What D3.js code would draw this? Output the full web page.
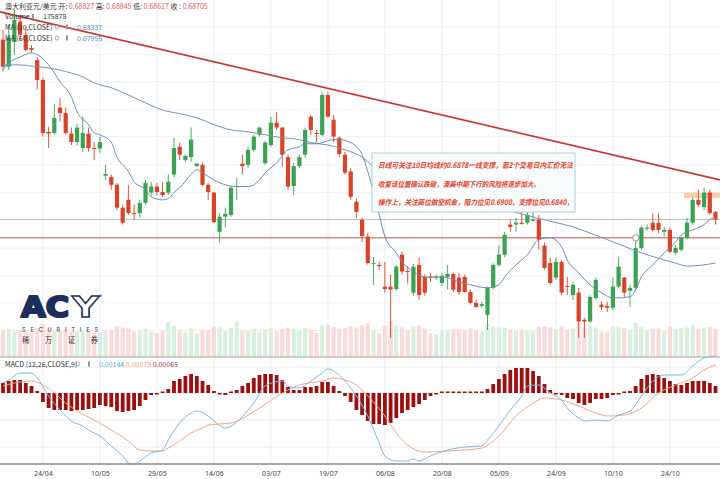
<!DOCTYPE html>
<html>
<head>
<meta charset="utf-8">
<script src="https://cdn.jsdelivr.net/npm/d3@7"></script>
<style>
body { margin: 0; background: #fff; }
svg { display: block; font-family: "Noto Sans CJK SC", "Noto Sans", sans-serif; }
</style>
</head>
<body>
<div id="chart"></div>
<script>
var width = 720;
var height = 479;

// AUD/USD daily candles
var opens = [0.7169,0.7124,0.7165,0.7199,0.7177,0.7155,0.7135,0.7102,0.7016,0.7014,
  0.7056,0.7047,0.7013,0.6999,0.6989,0.7013,0.6989,0.6988,0.6943,0.6941,
  0.6928,0.6890,0.6903,0.6881,0.6881,0.6898,0.6915,0.6925,0.6916,0.6915,
  0.6945,0.6991,0.6969,0.6974,0.6959,0.6961,0.6928,0.6915,0.6850,0.6875,
  0.6878,0.6925,0.6963,0.6961,0.6986,0.7011,0.6964,0.6994,0.7031,0.7023,
  0.6974,0.6926,0.6959,0.6978,0.7041,0.7014,0.7011,0.7077,0.7036,0.7006,
  0.6978,0.6950,0.6900,0.6870,0.6842,0.6797,0.6795,0.6759,0.6759,0.6755,
  0.6812,0.6785,0.6749,0.6795,0.6775,0.6775,0.6774,0.6765,0.6775,0.6780,
  0.6774,0.6775,0.6750,0.6732,0.6727,0.6712,0.6757,0.6795,0.6812,0.6862,
  0.6862,0.6865,0.6865,0.6868,0.6870,0.6827,0.6798,0.6774,0.6800,0.6760,
  0.6745,0.6749,0.6704,0.6701,0.6740,0.6729,0.6727,0.6724,0.6759,0.6774,
  0.6752,0.6757,0.6823,0.6855,0.6865,0.6865,0.6850,0.6853,0.6815,0.6820,
  0.6840,0.6865,0.6903,0.6891,0.6915,0.68827];
var highs = [0.7185,0.7194,0.7218,0.7210,0.7189,0.7160,0.7140,0.7106,0.7024,0.7061,
  0.7072,0.7056,0.7023,0.7029,0.7041,0.7023,0.6999,0.7008,0.6961,0.6945,
  0.6931,0.6895,0.6928,0.6895,0.6903,0.6936,0.6933,0.6931,0.6933,0.6945,
  0.7006,0.6998,0.6978,0.7023,0.6964,0.6964,0.6931,0.6916,0.6881,0.6890,
  0.6926,0.6940,0.6978,0.6991,0.7011,0.7024,0.7001,0.7041,0.7049,0.7024,
  0.6978,0.6964,0.6979,0.7023,0.7044,0.7019,0.7081,0.7082,0.7044,0.7008,
  0.6983,0.6956,0.6906,0.6873,0.6848,0.6808,0.6800,0.6800,0.6779,0.6795,
  0.6817,0.6793,0.6797,0.6807,0.6779,0.6782,0.6779,0.6782,0.6795,0.6782,
  0.6782,0.6779,0.6754,0.6737,0.6734,0.6759,0.6798,0.6828,0.6850,0.6870,
  0.6873,0.6891,0.6895,0.6883,0.6878,0.6832,0.6807,0.6807,0.6803,0.6775,
  0.6767,0.6757,0.6707,0.6745,0.6774,0.6734,0.6734,0.6774,0.6808,0.6775,
  0.6762,0.6842,0.6860,0.6862,0.6881,0.6881,0.6858,0.6857,0.6828,0.6842,
  0.6873,0.6906,0.6920,0.6923,0.6920,0.68845];
var lows = [0.7116,0.7119,0.7144,0.7169,0.7149,0.7147,0.7086,0.7008,0.6989,0.7011,
  0.7033,0.7011,0.6994,0.6993,0.6983,0.6983,0.6969,0.6981,0.6936,0.6920,
  0.6886,0.6862,0.6878,0.6870,0.6873,0.6895,0.6910,0.6910,0.6908,0.6911,
  0.6940,0.6969,0.6966,0.6966,0.6958,0.6925,0.6903,0.6865,0.6832,0.6857,
  0.6875,0.6903,0.6945,0.6956,0.6983,0.7008,0.6961,0.6991,0.7019,0.6958,
  0.6920,0.6911,0.6956,0.6973,0.7011,0.6998,0.7008,0.7039,0.6999,0.6974,
  0.6945,0.6903,0.6873,0.6833,0.6795,0.6762,0.6787,0.6749,0.6674,0.6752,
  0.6779,0.6764,0.6744,0.6737,0.6744,0.6767,0.6770,0.6760,0.6754,0.6750,
  0.6745,0.6749,0.6729,0.6724,0.6724,0.6687,0.6754,0.6792,0.6808,0.6850,
  0.6850,0.6862,0.6862,0.6867,0.6820,0.6787,0.6762,0.6770,0.6745,0.6745,
  0.6737,0.6674,0.6674,0.6699,0.6737,0.6720,0.6717,0.6720,0.6757,0.6742,
  0.6725,0.6754,0.6820,0.6852,0.6850,0.6848,0.6842,0.6815,0.6812,0.6817,
  0.6837,0.6862,0.6891,0.6886,0.6878,0.68617];
var closes = [0.7124,0.7172,0.7202,0.7177,0.7152,0.7152,0.7102,0.7014,0.7013,0.7039,
  0.7047,0.7014,0.6999,0.7023,0.7014,0.6989,0.6988,0.6999,0.6946,0.6928,
  0.6890,0.6865,0.6881,0.6880,0.6898,0.6931,0.6925,0.6916,0.6911,0.6933,
  0.6989,0.6978,0.6976,0.7003,0.6963,0.6928,0.6916,0.6866,0.6875,0.6880,
  0.6923,0.6926,0.6959,0.6986,0.7008,0.7023,0.6998,0.7031,0.7023,0.6978,
  0.6925,0.6959,0.6974,0.7019,0.7019,0.7013,0.7077,0.7041,0.7008,0.6979,
  0.6948,0.6908,0.6883,0.6843,0.6798,0.6798,0.6793,0.6755,0.6754,0.6792,
  0.6784,0.6784,0.6792,0.6745,0.6749,0.6774,0.6775,0.6777,0.6780,0.6754,
  0.6750,0.6750,0.6732,0.6725,0.6730,0.6757,0.6795,0.6812,0.6845,0.6858,
  0.6865,0.6863,0.6878,0.6870,0.6837,0.6790,0.6765,0.6800,0.6749,0.6759,
  0.6762,0.6701,0.6701,0.6742,0.6770,0.6725,0.6724,0.6759,0.6792,0.6749,
  0.6757,0.6823,0.6857,0.6857,0.6853,0.6853,0.6853,0.6817,0.6823,0.6840,
  0.6865,0.6903,0.6895,0.6915,0.6881,0.68705];
var volumes = [168000,175000,160000,172000,158000,150000,181000,205000,178000,170000,
  165000,176000,160000,158000,172000,166000,150000,155000,162000,170000,
  190000,185000,178000,160000,165000,176000,158000,150000,162000,218000,
  195000,170000,155000,180000,148000,172000,168000,192000,185000,160000,
  182000,220000,170000,165000,175000,158000,172000,180000,160000,176000,
  185000,178000,162000,180000,168000,150000,196000,200000,185000,178000,
  180000,192000,186000,198000,210000,170000,150000,195000,225000,200000,
  185000,165000,190000,196000,178000,150000,140000,165000,170000,176000,
  172000,168000,180000,170000,160000,205000,190000,185000,182000,170000,
  165000,172000,168000,160000,188000,192000,185000,175000,195000,172000,
  178000,210000,180000,196000,185000,160000,158000,190000,188000,182000,
  170000,212000,190000,165000,178000,180000,160000,192000,175000,182000,
  186000,200000,178000,185000,190000,175878];

// moving averages: [candle index, price]
var ma10 = [[0,0.7119],[1,0.7130],[3,0.7140],[5,0.7147],[6,0.7144],[8,0.7127],[9,0.7114],[10,0.7099],
  [12,0.7074],[13,0.7049],[15,0.7028],[16,0.7014],[17,0.7011],[19,0.6998],[20,0.6974],[22,0.6950],
  [23,0.6933],[25,0.6920],[26,0.6908],[28,0.6903],[29,0.6905],[30,0.6915],[31,0.6923],[33,0.6945],
  [34,0.6953],[35,0.6948],[37,0.6936],[39,0.6928],[41,0.6925],[43,0.6925],[45,0.6936],[46,0.6948],
  [48,0.6964],[50,0.6986],[52,0.6991],[53,0.6996],[55,0.6996],[58,0.7003],[59,0.7003],[61,0.6998],
  [63,0.6978],[64,0.6950],[65,0.6915],[66,0.6878],[67,0.6842],[69,0.6815],[70,0.6800],[72,0.6784],
  [74,0.6775],[77,0.6775],[80,0.6767],[82,0.6762],[85,0.6757],[87,0.6762],[88,0.6775],[90,0.6795],
  [92,0.6812],[94,0.6837],[96,0.6840],[98,0.6825],[99,0.6803],[101,0.6782],[103,0.6762],[105,0.6749],
  [107,0.6740],[110,0.6742],[111,0.6754],[112,0.6775],[114,0.6795],[116,0.6815],[118,0.6833],
  [119,0.6845],[121,0.6853],[123,0.6862],[124,0.6870],[125,0.6873]];
var ma60 = [[0,0.7127],[3,0.7127],[5,0.7125],[8,0.7122],[11,0.7116],[14,0.7107],[16,0.7097],[19,0.7089],
  [22,0.7077],[25,0.7064],[28,0.7052],[31,0.7046],[34,0.7039],[37,0.7028],[40,0.7019],[43,0.7016],
  [46,0.7011],[49,0.7006],[52,0.7003],[54,0.6998],[57,0.6994],[60,0.6986],[63,0.6974],[65,0.6958],
  [67,0.6950],[70,0.6945],[71,0.6941],[78,0.6916],[87,0.6890],[94,0.6872],[100,0.6858],[106,0.6837],
  [112,0.6815],[118,0.6798],[120,0.6793],[125,0.6798]];

// MACD (12,26,9)
var macdHist = [0.0005,0.0006,0.00065,0.00065,0.0005,0.00035,0.0001,-0.00045,-0.00075,-0.00085,
  -0.00085,-0.00085,-0.0009,-0.00085,-0.00085,-0.0008,-0.00075,-0.0006,-0.00065,-0.0007,
  -0.0009,-0.00095,-0.0009,-0.00085,-0.00065,-0.00035,-0.0001,-0.00005,0.00005,0.0002,
  0.0006,0.0007,0.00085,0.00095,0.00085,0.0006,0.0004,0.0001,-0.00005,-0.0001,
  0.00005,0.00015,0.00035,0.0005,0.00075,0.0009,0.00095,0.00095,0.0009,0.00065,
  0.0003,0.00015,0.00015,0.0003,0.0003,0.00035,0.00055,0.00055,0.00035,0.0001,
  -0.00015,-0.00045,-0.00085,-0.0011,-0.0014,-0.00155,-0.00155,-0.0016,-0.0015,-0.00125,
  -0.001,-0.00085,-0.0007,-0.00055,-0.00035,-0.00015,-0.00005,0.00003,0.00005,0.00005,
  0.00005,0.00005,0.00005,0.00005,0.00005,0.0002,0.00045,0.0007,0.00095,0.00115,
  0.00125,0.00125,0.00125,0.0011,0.00085,0.00045,0.00015,-0.00005,-0.0001,-0.00025,
  -0.0003,-0.0005,-0.0006,-0.0005,-0.0003,-0.0003,-0.00025,-0.0001,-0.00005,0.00005,
  0.0001,0.00035,0.0007,0.0009,0.00095,0.0009,0.00075,0.0006,0.00045,0.0004,
  0.0005,0.0006,0.0006,0.0006,0.0005,0.00035];
var macdLine = [[0,0.0005],[1,0.00065],[3,0.001],[5,0.001],[6,0.00075],[8,-0.00015],[10,-0.00085],
  [12,-0.0014],[14,-0.00165],[15,-0.00185],[17,-0.00215],[19,-0.00265],[21,-0.00315],[22,-0.0035],
  [23,-0.00355],[24,-0.0034],[26,-0.003],[28,-0.00285],[29,-0.00235],[31,-0.0015],[33,-0.001],
  [34,-0.0009],[36,-0.00115],[37,-0.0014],[39,-0.00175],[41,-0.00145],[43,-0.00085],[44,-0.0005],
  [46,0.00035],[49,0.0006],[50,0.00035],[52,0.00025],[54,0.0006],[56,0.001],[57,0.0012],[58,0.0011],
  [60,0.0006],[62,-0.00015],[64,-0.00115],[66,-0.0025],[67,-0.00315],[69,-0.0034],[71,-0.0034],
  [72,-0.0033],[73,-0.0034],[75,-0.00315],[78,-0.00285],[81,-0.0027],[84,-0.00265],[85,-0.00235],
  [87,-0.00165],[89,-0.00085],[91,-0.00015],[92,0.00035],[94,0.0004],[96,0],[98,-0.00035],
  [99,-0.00075],[101,-0.00125],[102,-0.0014],[104,-0.00135],[106,-0.0014],[108,-0.0011],[110,-0.0009],
  [112,-0.00015],[114,0.0006],[116,0.0009],[119,0.0009],[121,0.00135],[123,0.00175],[125,0.00185]];
var signalLine = [[0,0.00035],[2,0.0005],[5,0.0006],[7,0.0004],[9,0],[11,-0.0005],[13,-0.0009],
  [16,-0.00135],[19,-0.00185],[22,-0.0024],[24,-0.00285],[26,-0.0029],[28,-0.0029],[29,-0.00275],
  [31,-0.0024],[33,-0.002],[35,-0.00175],[36,-0.0016],[38,-0.00155],[40,-0.0015],[45,-0.00075],
  [49,0],[52,0.0004],[56,0.0006],[58,0.00075],[60,0.00065],[62,0.0004],[64,-0.00015],[67,-0.00115],
  [69,-0.002],[71,-0.0026],[74,-0.00295],[78,-0.0029],[81,-0.00285],[84,-0.00275],[87,-0.00215],
  [90,-0.00115],[93,-0.0005],[95,-0.00025],[98,-0.00035],[101,-0.00065],[104,-0.001],[106,-0.00115],
  [109,-0.0011],[112,-0.00075],[115,0],[118,0.0004],[121,0.00075],[123,0.00115],[125,0.0014]];

var tickIdx = [7,17,27,37,47,57,67,77,87,97,107,117];
var tickLabels = ["24/04","10/05","29/05","14/06","03/07","19/07","06/08","20/08","05/09","24/09","10/10","24/10"];
var gridPrices = [0.7190,0.7144,0.7099,0.7052,0.7008,0.6961,0.6915,0.6823,0.6777,0.6732,0.6686];
var macdGrid = [0.0013,0,-0.00135,-0.0027];

var lastPrice = 0.68705;
var supportPrice = 0.6840;
var trendIdx = [0,125];
var trendPrice = [0.7214,0.6938];
var zonePrice = [0.6906,0.6915];
var zoneStart = 120;
var alertIdx = 111;

var notes = ["日线可关注10日均线约0.6878一线支撑，若2个交易日内汇价无法",
  "收复该位置确认跌破，澳美中期下行的风险将逐步加大。",
  "操作上，关注高位做空机会，阻力位见0.6900，支撑位见0.6840，"];

var svg = d3.select("#chart").append("svg").attr("width", width).attr("height", height);

var x = d3.scaleLinear().domain([0, 125]).range([3, 715.5]);
var y = d3.scaleLinear().domain([0.6677, 0.7082]).range([336, 92]);
var yVol = d3.scaleLinear().domain([0, 300000]).range([357, 309]);
var yMacd = d3.scaleLinear().domain([-0.0035, 0.0018]).range([463, 357]);

var green = "#3aa352", red = "#d8432a";

// grid
svg.selectAll(".vgrid").data(tickIdx).enter().append("line")
  .attr("x1", d => x(d)).attr("x2", d => x(d))
  .attr("y1", 0).attr("y2", 463)
  .attr("stroke", "#eeeeee");
svg.selectAll(".hgrid").data(gridPrices).enter().append("line")
  .attr("x1", 0).attr("x2", width)
  .attr("y1", d => y(d)).attr("y2", d => y(d))
  .attr("stroke", "#f1f1f1");
svg.selectAll(".mgrid").data(macdGrid).enter().append("line")
  .attr("x1", 0).attr("x2", width)
  .attr("y1", d => yMacd(d)).attr("y2", d => yMacd(d))
  .attr("stroke", "#ececec");

// volume
svg.selectAll(".vol").data(volumes).enter().append("rect")
  .attr("x", (d, i) => x(i) - 2.1)
  .attr("width", 4.2)
  .attr("y", d => yVol(d))
  .attr("height", d => 357 - yVol(d))
  .attr("fill", (d, i) => closes[i] >= opens[i] ? "#d9efdf" : "#f9dcd8");

// trend line
var tp = function(i) {
  return trendPrice[0] + (trendPrice[1] - trendPrice[0]) * (i - trendIdx[0]) / (trendIdx[1] - trendIdx[0]);
};
svg.append("line")
  .attr("x1", 0).attr("y1", y(tp(x.invert(0))))
  .attr("x2", width).attr("y2", y(tp(x.invert(width))))
  .attr("stroke", "#c93a35").attr("stroke-width", 1.7);

// price lines
svg.append("line").attr("x1", 0).attr("x2", width)
  .attr("y1", y(lastPrice)).attr("y2", y(lastPrice))
  .attr("stroke", "#bdbdbd");
svg.append("line").attr("x1", 0).attr("x2", width)
  .attr("y1", y(supportPrice)).attr("y2", y(supportPrice))
  .attr("stroke", "#c5524c");

svg.append("rect")
  .attr("x", x(zoneStart) - 3).attr("width", width - x(zoneStart) + 3)
  .attr("y", y(zonePrice[1])).attr("height", y(zonePrice[0]) - y(zonePrice[1]))
  .attr("fill", "#f3c08e").attr("opacity", 0.75);

// candles
var idx = d3.range(opens.length);
svg.selectAll(".wick").data(idx).enter().append("line")
  .attr("x1", i => x(i)).attr("x2", i => x(i))
  .attr("y1", i => y(highs[i])).attr("y2", i => y(lows[i]))
  .attr("stroke", i => closes[i] >= opens[i] ? green : red)
  .attr("stroke-width", 0.9);
svg.selectAll(".body").data(idx).enter().append("rect")
  .attr("x", i => x(i) - 2.1)
  .attr("width", 4.2)
  .attr("y", i => y(Math.max(opens[i], closes[i])))
  .attr("height", i => Math.max(1, Math.abs(y(opens[i]) - y(closes[i]))))
  .attr("fill", i => closes[i] >= opens[i] ? green : red);

var maLine = d3.line().x(d => x(d[0])).y(d => y(d[1])).curve(d3.curveMonotoneX);
svg.append("path").attr("d", maLine(ma60))
  .attr("fill", "none").attr("stroke", "#7394b6").attr("stroke-width", 1);
svg.append("path").attr("d", maLine(ma10))
  .attr("fill", "none").attr("stroke", "#6a8db3").attr("stroke-width", 1);

svg.append("circle")
  .attr("cx", x(alertIdx)).attr("cy", y(supportPrice)).attr("r", 3.2)
  .attr("fill", "#fff").attr("stroke", "#9a9a9a");

// comment box
svg.append("rect")
  .attr("x", 372).attr("y", 153).attr("width", 203).attr("height", 59)
  .attr("fill", "#f8fcfc").attr("stroke", "#a6d3d3");
svg.selectAll(".note").data(notes).enter().append("text")
  .attr("x", 378)
  .attr("y", (d, i) => 168 + i * 18.5)
  .attr("textLength", (d, i) => i == 1 ? 162 : 195)
  .attr("lengthAdjust", "spacingAndGlyphs")
  .attr("fill", "#e8432b")
  .style("font-size", "7.5px")
  .style("font-style", "italic")
  .style("font-weight", "bold")
  .text(d => d);

// legend
var leg = svg.append("g").style("font-size", "7px");
var t1 = leg.append("text").attr("x", 5).attr("y", 8.5);
t1.append("tspan").attr("fill", "#333").text("澳大利亚元/美元 ");
[["开: ", opens[125]], [" 高: ", highs[125]], [" 低: ", lows[125]], [" 收 : ", closes[125]]].forEach(function(p) {
  t1.append("tspan").attr("fill", "#333").text(p[0]);
  t1.append("tspan").attr("fill", "#e0555a").text(p[1].toFixed(5));
});
leg.append("text").attr("x", 5).attr("y", 19).attr("fill", "#333").text("Volume");
leg.append("rect").attr("x", 32).attr("y", 14).attr("width", 2).attr("height", 5).attr("fill", "#999");
leg.append("text").attr("x", 43).attr("y", 19).attr("fill", "#333").text(volumes[125]);
[["MA (10,CLOSE)", "0.68337", 29.5], ["MA (60,CLOSE)", "0.67955", 40.5]].forEach(function(r) {
  leg.append("text").attr("x", 5).attr("y", r[2]).attr("fill", "#333").text(r[0]);
  leg.append("circle").attr("cx", 57).attr("cy", r[2] - 2.5).attr("r", 2).attr("fill", "none").attr("stroke", "#999").attr("stroke-width", 0.8);
  leg.append("rect").attr("x", 66).attr("y", r[2] - 5).attr("width", 2).attr("height", 5).attr("fill", "#999");
  leg.append("text").attr("x", 77).attr("y", r[2]).attr("fill", "#4a8fc7").text(r[1]);
});

// logo
var logo = svg.append("g");
logo.append("text").attr("x", 21).attr("y", 317)
  .attr("textLength", 48).attr("lengthAdjust", "spacingAndGlyphs")
  .attr("fill", "#1c2e5c").attr("stroke", "#1c2e5c").attr("stroke-width", 2.2)
  .attr("stroke-linejoin", "round")
  .style("font-family", "\"DejaVu Sans\", sans-serif")
  .style("font-size", "28px").style("font-weight", "bold").text("AC");
logo.append("text").attr("x", 72).attr("y", 317)
  .attr("textLength", 27).attr("lengthAdjust", "spacingAndGlyphs")
  .attr("fill", "#fff").attr("stroke", "#1c2e5c").attr("stroke-width", 1.3)
  .style("font-family", "\"DejaVu Sans\", sans-serif")
  .style("font-size", "28px").style("font-weight", "bold").text("Y");
logo.append("text").attr("x", 100).attr("y", 298).attr("fill", "#1c2e5c")
  .style("font-size", "4px").text("®");
logo.append("text").attr("x", 22).attr("y", 332)
  .attr("textLength", 76).attr("lengthAdjust", "spacing")
  .attr("fill", "#1c2e5c").style("font-family", "Inter, sans-serif")
  .style("font-size", "5.5px").text("SECURITIES");
logo.append("text").attr("x", 22).attr("y", 343)
  .attr("textLength", 76).attr("lengthAdjust", "spacing")
  .attr("fill", "#333").style("font-size", "7.5px").text("稀万证券");

// MACD panel
svg.append("line").attr("x1", 0).attr("x2", width).attr("y1", 357).attr("y2", 357)
  .attr("stroke", "#a0a0a0");
svg.selectAll(".hist").data(macdHist).enter().append("rect")
  .attr("x", (d, i) => x(i) - 1.9)
  .attr("width", 3.8)
  .attr("y", d => d >= 0 ? Math.min(yMacd(d), yMacd(0) - 1.5) : yMacd(0))
  .attr("height", d => Math.max(1.5, Math.abs(yMacd(d) - yMacd(0))))
  .attr("fill", "#9c1010");
var mLine = d3.line().x(d => x(d[0])).y(d => yMacd(d[1])).curve(d3.curveMonotoneX);
svg.append("path").attr("d", mLine(signalLine))
  .attr("fill", "none").attr("stroke", "#f0a584").attr("stroke-width", 1);
svg.append("path").attr("d", mLine(macdLine))
  .attr("fill", "none").attr("stroke", "#79b9df").attr("stroke-width", 1);

var mleg = svg.append("g").style("font-size", "7px");
mleg.append("text").attr("x", 5).attr("y", 366.5).attr("fill", "#333").text("MACD (12,26,CLOSE,9)");
mleg.append("circle").attr("cx", 78).attr("cy", 364).attr("r", 2).attr("fill", "none").attr("stroke", "#999").attr("stroke-width", 0.8);
mleg.append("rect").attr("x", 88).attr("y", 361.5).attr("width", 2).attr("height", 5).attr("fill", "#999");
var mt = mleg.append("text").attr("x", 99).attr("y", 366.5);
mt.append("tspan").attr("fill", "#5aa8d8").text("0.00144 ");
mt.append("tspan").attr("fill", "#ee9a72").text("0.00079 ");
mt.append("tspan").attr("fill", "#a33").text("0.00065");

// x axis
svg.append("line").attr("x1", 0).attr("x2", width).attr("y1", 464).attr("y2", 464)
  .attr("stroke", "#8a8a8a").attr("stroke-width", 1.5);
var xAxis = d3.axisBottom(x).tickValues(tickIdx)
  .tickFormat((d, i) => tickLabels[i]).tickSize(0).tickPadding(7);
var ax = svg.append("g").attr("transform", "translate(0,464)").call(xAxis);
ax.select(".domain").remove();
ax.selectAll("text").attr("fill", "#444")
  .style("font-size", "7px").style("font-family", "\"Noto Sans\", sans-serif");
</script>
</body>
</html>
